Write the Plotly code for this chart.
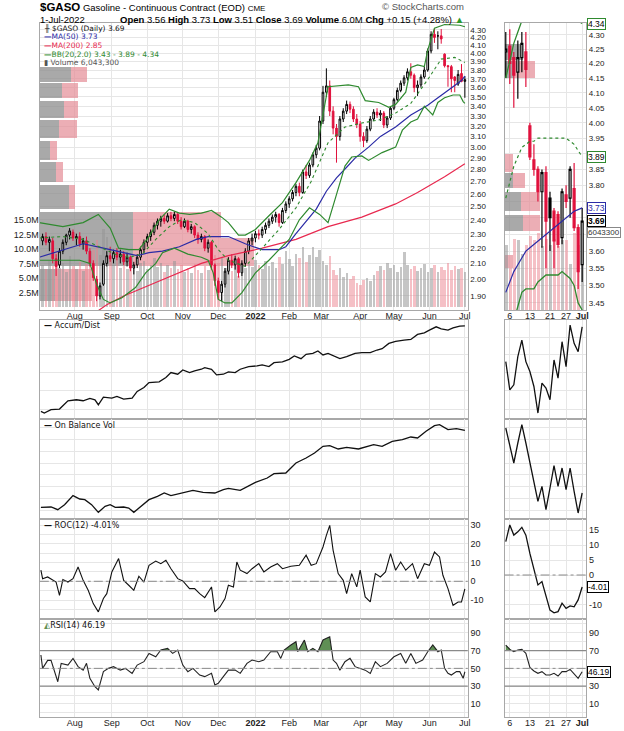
import numpy as np
import plotly.graph_objects as go

# ======================= DATA =======================
# x = trading-day index: 0 = 1-Jul-2021 ... 252 = 1-Jul-2022 ; main candles every 2 trading days
bar_idx = list(range(2, 253, 2))
opens = [2.25,2.28,2.24,2.25,2.13,2.09,2.18,2.24,2.29,2.31,
         2.27,2.28,2.23,2.25,2.18,2.10,2.00,1.90,1.97,2.10,
         2.15,2.13,2.17,2.14,2.16,2.11,2.14,2.07,2.09,2.14,
         2.19,2.24,2.28,2.31,2.36,2.39,2.41,2.39,2.43,2.41,
         2.44,2.39,2.35,2.39,2.33,2.35,2.29,2.26,2.28,2.20,
         2.24,2.09,1.99,1.92,1.97,2.05,2.12,2.09,2.13,2.04,
         2.10,2.18,2.25,2.27,2.30,2.29,2.33,2.36,2.39,2.42,
         2.44,2.38,2.47,2.52,2.56,2.61,2.66,2.61,2.78,2.75,
         2.84,2.93,2.99,3.25,3.55,3.62,3.35,3.18,3.10,3.27,
         3.35,3.42,3.37,3.27,3.22,3.10,3.06,3.17,3.27,3.34,
         3.31,3.33,3.21,3.28,3.38,3.47,3.57,3.65,3.71,3.78,
         3.74,3.60,3.63,3.72,3.80,4.03,4.24,4.22,4.22,3.99,
         3.85,3.84,3.72,3.64,3.76,3.67]
highs = [2.30,2.31,2.28,2.27,2.16,2.20,2.26,2.30,2.34,2.33,
         2.30,2.31,2.27,2.28,2.20,2.12,2.02,1.98,2.12,2.18,
         2.21,2.19,2.20,2.19,2.18,2.17,2.15,2.11,2.16,2.21,
         2.26,2.30,2.33,2.38,2.41,2.43,2.44,2.45,2.46,2.46,
         2.45,2.42,2.41,2.40,2.37,2.36,2.31,2.30,2.29,2.26,
         2.25,2.10,2.01,1.99,2.07,2.14,2.16,2.15,2.14,2.12,
         2.20,2.27,2.30,2.32,2.33,2.35,2.38,2.41,2.44,2.46,
         2.45,2.49,2.54,2.58,2.63,2.68,2.69,2.80,2.84,2.86,
         2.95,3.02,3.30,3.62,3.82,3.68,3.40,3.22,3.30,3.38,
         3.46,3.45,3.40,3.32,3.25,3.14,3.20,3.30,3.37,3.38,
         3.36,3.35,3.30,3.40,3.49,3.60,3.68,3.74,3.82,3.88,
         3.76,3.68,3.75,3.84,4.06,4.28,4.32,4.28,4.31,4.00,
         3.86,3.86,3.73,3.80,3.87,3.73]
lows = [2.22,2.22,2.18,2.10,2.02,2.07,2.16,2.22,2.26,2.25,
        2.22,2.21,2.19,2.16,2.08,1.99,1.87,1.88,1.96,2.08,
        2.11,2.10,2.12,2.10,2.09,2.08,2.05,2.03,2.07,2.12,
        2.17,2.21,2.25,2.29,2.33,2.35,2.37,2.38,2.39,2.39,
        2.37,2.33,2.34,2.31,2.30,2.27,2.23,2.24,2.18,2.17,
        2.06,1.96,1.88,1.87,1.95,2.03,2.07,2.06,2.01,2.02,
        2.08,2.16,2.22,2.24,2.26,2.27,2.30,2.34,2.37,2.38,
        2.35,2.37,2.45,2.49,2.54,2.58,2.58,2.60,2.72,2.73,
        2.82,2.90,2.97,3.22,3.50,3.30,3.12,2.86,3.06,3.24,
        3.32,3.33,3.24,3.18,3.05,3.00,3.04,3.15,3.25,3.28,
        3.25,3.18,3.18,3.26,3.36,3.45,3.55,3.62,3.68,3.70,
        3.55,3.51,3.60,3.70,3.78,4.00,4.13,4.05,4.12,3.83,
        3.61,3.55,3.55,3.62,3.66,3.49]
closes = [2.28,2.24,2.26,2.13,2.08,2.18,2.24,2.29,2.32,2.27,
          2.28,2.23,2.25,2.18,2.10,2.01,1.90,1.96,2.10,2.15,
          2.13,2.17,2.14,2.16,2.11,2.14,2.07,2.09,2.14,2.19,
          2.24,2.28,2.31,2.36,2.39,2.41,2.39,2.43,2.41,2.44,
          2.39,2.35,2.39,2.33,2.35,2.29,2.26,2.28,2.20,2.24,
          2.09,1.99,1.92,1.97,2.05,2.12,2.09,2.13,2.04,2.10,
          2.18,2.25,2.27,2.30,2.29,2.33,2.36,2.39,2.42,2.44,
          2.38,2.47,2.52,2.56,2.61,2.66,2.61,2.78,2.75,2.84,
          2.93,2.99,3.25,3.55,3.62,3.35,3.18,3.10,3.27,3.35,
          3.42,3.37,3.27,3.22,3.10,3.06,3.17,3.27,3.34,3.31,
          3.33,3.21,3.28,3.38,3.47,3.57,3.65,3.71,3.78,3.74,
          3.60,3.63,3.72,3.80,4.03,4.24,4.20,4.22,4.18,3.85,
          3.84,3.70,3.68,3.75,3.67,3.69]
volumes = [7.2,6.5,8.0,7.0,9.5,6.8,7.5,6.0,8.8,7.0,
           6.5,7.8,6.2,7.4,8.5,9.8,11.5,9.0,13.5,12.0,
           8.5,7.2,9.0,6.8,7.5,6.5,8.0,7.0,6.2,7.6,
           8.0,6.6,7.2,8.4,6.9,7.6,6.0,7.3,6.8,7.9,
           6.5,7.2,6.0,6.8,5.9,7.4,6.3,5.8,7.0,6.4,
           8.2,9.0,7.5,8.6,6.8,7.8,6.2,7.0,5.4,6.0,
           6.8,7.6,6.9,8.1,7.3,6.6,8.0,7.1,7.7,6.8,
           8.6,7.4,9.6,8.2,7.0,9.2,8.4,10.3,7.8,9.0,
           10.4,8.6,9.8,8.0,7.2,8.8,6.4,5.6,6.8,5.2,
           5.8,4.8,5.4,4.2,3.8,4.6,5.0,4.4,5.6,6.2,
           7.0,6.4,7.6,6.8,7.3,6.0,6.9,9.4,7.2,6.5,
           7.0,6.2,6.8,7.4,6.1,6.7,7.2,6.0,6.9,6.3,
           7.5,6.4,7.0,6.6,6.8,6.04]

# last quote (header)
quote_open, quote_high, quote_low, quote_close = 3.56, 3.73, 3.51, 3.69
quote_chg, quote_pct = 0.15, 4.28
last_volume = 6043300

ma50_idx = [0,14,26,34,46,58,65,73,83,93,100,112,122,132,142,146,152,158,164,170,176,182,187,195,202,211,220,230,240,250,252]
ma50_val = [2.14,2.19,2.23,2.21,2.18,2.15,2.17,2.18,2.21,2.26,2.28,2.28,2.23,2.19,2.19,2.21,2.30,2.39,2.48,2.62,2.73,2.82,2.90,3.00,3.10,3.19,3.31,3.41,3.54,3.68,3.73]
ma200_idx = [30,34,40,50,69,83,96,112,132,152,171,191,211,224,240,252]
ma200_val = [1.78,1.81,1.85,1.90,1.98,2.04,2.10,2.15,2.20,2.26,2.35,2.42,2.52,2.61,2.74,2.85]
bb_up_idx = [0,14,26,35,42,47,53,59,65,71,77,83,89,96,102,108,112,118,122,128,136,144,152,160,165,169,171,183,189,193,201,207,211,217,220,224,228,230,234,240,249,252]
bb_up_val = [2.38,2.35,2.38,2.44,2.34,2.20,2.19,2.19,2.28,2.40,2.48,2.45,2.44,2.45,2.47,2.42,2.38,2.29,2.29,2.33,2.43,2.53,2.69,2.88,3.04,3.43,3.61,3.63,3.61,3.46,3.44,3.39,3.42,3.55,3.83,3.86,3.84,4.04,4.32,4.37,4.36,4.34]
bb_mid_idx = [0,14,26,35,45,53,61,69,77,84,92,100,106,112,122,132,142,152,161,171,181,191,201,211,220,230,238,246,252]
bb_mid_val = [2.27,2.28,2.26,2.21,2.16,2.14,2.16,2.26,2.35,2.40,2.38,2.30,2.19,2.12,2.08,2.20,2.33,2.49,2.70,3.04,3.19,3.23,3.26,3.33,3.43,3.69,3.93,3.95,3.89]
bb_lo_idx = [0,14,24,30,34,38,42,49,57,63,69,73,80,88,96,100,103,106,110,114,120,128,136,142,148,154,160,166,171,175,181,185,191,195,203,211,215,220,224,228,233,236,240,245,249,251,252]
bb_lo_val = [2.12,2.12,2.12,2.10,1.97,1.88,1.86,1.89,1.95,2.04,2.10,2.17,2.20,2.16,2.14,2.12,2.04,1.88,1.86,1.86,1.92,2.04,2.12,2.19,2.26,2.40,2.49,2.44,2.38,2.55,2.83,2.91,2.92,2.88,2.95,3.00,3.16,3.24,3.27,3.40,3.31,3.44,3.49,3.52,3.52,3.45,3.43]

# volume-by-price zones (price low/high, up-volume, down-volume)
vbp_lo = [1.87, 2.08, 2.27, 2.48, 2.69, 2.88, 3.08, 3.28, 3.49, 3.66]
vbp_hi = [2.07, 2.27, 2.46, 2.67, 2.87, 3.06, 3.26, 3.46, 3.65, 3.84]
vbp_up = [15, 93, 93, 29, 16, 10, 19, 24, 22, 31]
vbp_down = [37, 122, 89, 6, 7, 7, 18, 14, 16, 16]

month_idx = [21, 43, 64, 85, 106, 128, 148, 167, 190, 210, 231, 252]
month_txt = ['Aug', 'Sep', 'Oct', 'Nov', 'Dec', '<b>2022</b>', 'Feb', 'Mar', 'Apr', 'May', 'Jun', 'Jul']

ad_idx = [1,3,7,12,17,22,26,30,33,35,38,43,46,50,55,58,62,65,71,75,78,82,85,89,92,96,98,102,105,109,112,116,119,124,129,132,136,139,144,148,151,155,158,162,165,168,171,175,178,182,187,191,196,200,203,207,211,216,220,224,228,231,235,238,242,245,249,252]
ad_val = [23,18,28,30,55,58,55,62,58,43,66,63,68,60,63,83,95,110,112,125,140,135,148,140,145,150,155,150,133,135,142,140,150,158,160,163,158,170,172,180,190,182,195,198,205,193,198,188,182,188,198,200,200,208,212,228,234,238,240,255,260,268,278,272,268,275,280,281]
obv_idx = [1,7,11,15,20,24,27,31,35,39,42,45,50,53,56,60,65,70,74,78,82,85,91,97,104,109,112,119,128,135,139,146,152,158,163,168,172,177,182,189,198,203,209,215,220,224,229,234,237,242,247,252]
obv_val = [35,36,28,43,70,60,58,43,20,38,43,35,36,33,20,38,58,68,78,70,75,80,86,80,78,88,92,86,110,123,136,138,168,183,198,218,220,210,215,210,223,218,233,238,246,243,263,280,283,268,271,266]
roc_idx = [1,2,5,10,12,14,17,20,23,26,29,32,35,38,40,43,47,50,53,56,59,62,65,69,72,75,78,82,85,89,92,95,98,102,104,107,110,112,115,117,119,123,126,130,133,137,141,144,149,154,158,161,164,168,170,172,174,177,180,182,185,188,190,193,196,199,202,205,208,211,214,217,221,224,228,231,234,237,239,242,245,248,250,252]
roc_val = [5.9,1.4,2.3,-0.4,-7.5,0.9,-0.4,1.4,7.6,0.5,-4.8,-11.9,-16.3,-9.2,-6.6,5.0,12.1,0.5,-2.1,-4.8,2.7,-0.4,8.5,10.8,9.4,11.2,6.7,1.4,0.2,-3.9,-3.9,-6.6,-8.7,-3.0,-16.3,-13.7,-9.2,-2.1,-3.0,10.3,5.9,4.1,6.7,9.4,5.0,7.6,9.4,6.7,8.0,8.5,13.9,8.5,9.4,18.3,24.5,29.8,16.5,4.1,0.5,-6.6,4.1,-3.0,5.9,-8.3,-11.0,4.1,2.3,5.0,14.7,5.9,10.3,5.9,9.4,1.4,9.4,8.5,15.6,13.0,3.2,-3.9,-12.8,-11.0,-11.0,-4.01]
rsi_idx = [1,2,5,7,11,13,17,20,23,26,28,30,33,35,38,41,44,48,51,55,58,62,65,69,72,76,79,82,85,88,91,95,98,102,104,106,109,112,116,119,123,126,130,133,137,141,143,145,149,152,153,157,159,162,165,168,172,174,176,178,181,184,187,190,193,196,199,202,206,210,214,217,220,223,227,230,233,236,238,240,242,244,247,249,251,252]
rsi_val = [65,50,59,59,35,55.6,53.7,61.2,51.9,48,55.6,38.8,29.4,25.7,46.3,50,51.9,48,50,44.4,53.7,57.5,66.8,63,70.6,72.4,66.8,70.6,53.7,46.3,50,42.5,40.7,44.4,31.3,33.2,40.7,48,48,44.4,55.6,59.3,57.5,59.3,68.7,68.7,61.2,70.6,76.2,79.9,68.7,81.8,68.7,72.4,68.7,81.8,85.5,59.3,55.6,48,57.5,61.2,51.9,50,48,44.4,57.5,51.9,55.6,63,66.8,55.6,66.8,55.6,59.3,68.7,76.2,68.7,70.6,50,44.4,42.5,46.3,46.3,38.8,46.19]

# mini (zoomed) panel: daily, 3-Jun-2022 .. 1-Jul-2022
mini_idx = list(range(20))
mini_tick_idx = [1, 6, 11, 15, 19]
mini_tick_txt = ['6', '13', '21', '27', '<b>Jul</b>']
mini_open = [4.24,4.26,4.22,4.17,4.22,4.24,3.99,3.88,3.85,3.78,3.84,3.76,3.72,3.71,3.64,3.77,3.76,3.79,3.67,3.56]
mini_high = [4.31,4.32,4.24,4.28,4.31,4.31,4.00,3.93,3.86,3.85,3.86,3.78,3.73,3.72,3.79,3.80,3.86,3.87,3.68,3.73]
mini_low = [4.15,4.13,4.05,4.08,4.17,4.12,3.88,3.83,3.75,3.61,3.55,3.60,3.55,3.61,3.62,3.73,3.70,3.66,3.49,3.51]
mini_close = [4.25,4.20,4.16,4.22,4.27,4.18,3.89,3.85,3.78,3.84,3.69,3.70,3.63,3.62,3.78,3.75,3.85,3.67,3.54,3.69]
mini_volume = [5.1,3.3,5.6,5.5,4.4,5.1,5.8,5.5,6.0,5.0,5.6,5.1,5.6,5.0,5.5,5.5,3.6,6.0,5.1,6.0433]
mini_ma50 = [3.48,3.51,3.54,3.56,3.58,3.60,3.61,3.62,3.63,3.64,3.65,3.66,3.67,3.68,3.69,3.70,3.71,3.72,3.725,3.73]
mini_bb_up = [4.15,4.21,4.27,4.31,4.35,4.37,4.38,4.39,4.39,4.39,4.39,4.38,4.38,4.37,4.37,4.36,4.36,4.35,4.35,4.34]
mini_bb_mid = [3.76,3.81,3.86,3.89,3.92,3.93,3.94,3.94,3.95,3.95,3.95,3.95,3.95,3.95,3.95,3.95,3.94,3.93,3.91,3.89]
mini_bb_lo = [3.30,3.35,3.40,3.44,3.48,3.49,3.49,3.49,3.51,3.52,3.53,3.53,3.53,3.53,3.54,3.53,3.52,3.50,3.45,3.43]
mvbp_lo = [3.55, 3.66, 3.72, 3.79, 3.84, 4.15, 4.21]
mvbp_hi = [3.59, 3.71, 3.78, 3.84, 3.90, 4.21, 4.27]
mvbp_up = [0, 18, 16, 8, 0, 8, 18]
mvbp_down = [8, 17, 19, 12, 8, 22, 0]
mini_ad = [173,88,103,188,238,173,143,98,18,108,93,58,178,123,233,158,283,228,203,278]
mini_obv = [273,218,168,228,283,228,168,108,53,98,28,93,160,98,153,88,153,83,18,78]
mini_roc = [11.1,16.7,13.3,14.4,15.9,13.3,7.2,1.7,-3.3,-2.2,-7.2,-11.7,-12.6,-12.2,-9.4,-11.1,-10.3,-10.6,-8.3,-4.01]
mini_rsi = [76.2,71.3,68.7,70.6,71.3,66.8,51.1,47.0,44.4,46.3,42.5,42.5,44.4,41.4,46.3,46.3,48.9,44.4,38.8,46.19]

# ======================= STYLE / LAYOUT =======================
W, H = 624, 731
FONT = "Liberation Sans, Arial, sans-serif"
LFONT = "DejaVu Sans, Verdana, sans-serif"
GRID = "#e6e6e6"
BORDER = "#a8a8a8"
RED = "#e0103c"
BLUE = "#2b2ba6"
MA200C = "#e8294f"
GREEN = "#2f8a2f"
RSIFILL = "#5f8f55"
tf = dict(family=FONT, size=9, color="#222")
tf_price = dict(family=FONT, size=8, color="#222")


def ydom(top, bot):
    return [1 - bot / H, 1 - top / H]


def xdom(l, r):
    return [l / W, r / W]


MAIN_XD = xdom(40, 470)
MINI_XD = xdom(507, 589)
PRICE_YD = ydom(23, 310)
AD_YD = ydom(319.5, 419)
OBV_YD = ydom(419, 519)
ROC_YD = ydom(519, 619)
RSI_YD = ydom(619, 717)
MAIN_XR = [0.35, 253.7]
MINI_XR = [-0.3, 20.0]
PRICE_LO, PRICE_HI = 1.82, 4.39
MPRICE_LO, MPRICE_HI = 3.43, 4.342
VOL_RANGE = [-0.52, 48.97]
MVOL_RANGE = [0, 22.5]

fig = go.Figure()


def vbp(lo, hi, up, down, xa, ya):
    lo_l, hi_l = np.log(lo), np.log(hi)
    mid = (lo_l + hi_l) / 2
    wid = (hi_l - lo_l) * 0.97
    fig.add_trace(go.Bar(x=up, y=mid, width=wid, orientation='h',
                         marker=dict(color='rgba(140,140,140,0.75)', line_width=0),
                         xaxis=xa, yaxis=ya, hoverinfo='skip'))
    fig.add_trace(go.Bar(x=down, y=mid, base=up, width=wid, orientation='h',
                         marker=dict(color='rgba(228,140,150,0.7)', line_width=0),
                         xaxis=xa, yaxis=ya, hoverinfo='skip'))


def volume_bars(xs, v, c, width, xa, ya):
    c = np.asarray(c, float)
    prev = np.r_[c[0], c[:-1]]
    cols = np.where(c >= prev, 'rgba(150,150,150,0.55)', 'rgba(236,130,142,0.5)')
    fig.add_trace(go.Bar(x=xs, y=v, width=width, marker=dict(color=list(cols), line_width=0),
                         xaxis=xa, yaxis=ya, hoverinfo='skip'))


def candles(xs, o, h, l, c, xa, ya, lw):
    xs = np.asarray(xs); o = np.asarray(o, float); h = np.asarray(h, float)
    l = np.asarray(l, float); c = np.asarray(c, float)
    prev = np.r_[o[0], c[:-1]]
    blk = c >= prev
    for mask, col in ((blk, 'black'), (~blk, RED)):
        fig.add_trace(go.Candlestick(
            x=xs[mask], open=o[mask], high=h[mask], low=l[mask], close=c[mask],
            increasing=dict(line=dict(color=col, width=lw), fillcolor='white'),
            decreasing=dict(line=dict(color=col, width=lw), fillcolor=col),
            whiskerwidth=0, xaxis=xa, yaxis=ya, hoverinfo='skip'))


def line(xs, ys, color, xa, ya, width=1.2, dash=None):
    fig.add_trace(go.Scatter(x=xs, y=ys, mode='lines', line=dict(color=color, width=width, dash=dash),
                             xaxis=xa, yaxis=ya, hoverinfo='skip'))


def above(xs, vs, level):
    X, Y = [], []
    for i in range(len(xs)):
        if i > 0 and (vs[i - 1] - level) * (vs[i] - level) < 0:
            t = (level - vs[i - 1]) / (vs[i] - vs[i - 1])
            X.append(xs[i - 1] + t * (xs[i] - xs[i - 1])); Y.append(level)
        X.append(xs[i]); Y.append(max(vs[i], level))
    return X, Y


def rsi_block(xs, vs, xa, ya):
    X, Y = above(xs, vs, 70)
    fig.add_trace(go.Scatter(x=X, y=[70] * len(X), mode='lines', line=dict(width=0),
                             xaxis=xa, yaxis=ya, hoverinfo='skip'))
    fig.add_trace(go.Scatter(x=X, y=Y, mode='lines', line=dict(width=0), fill='tonexty',
                             fillcolor=RSIFILL, xaxis=xa, yaxis=ya, hoverinfo='skip'))
    line(xs, vs, '#222', xa, ya, 1.1)


# ---- main price panel ----
vbp(vbp_lo, vbp_hi, vbp_up, vbp_down, 'x', 'y')
volume_bars(bar_idx, volumes, closes, 1.55, 'x2', 'y2')
candles(bar_idx, opens, highs, lows, closes, 'x2', 'y3', 1)
line(ma200_idx, ma200_val, MA200C, 'x2', 'y3')
line(ma50_idx, ma50_val, BLUE, 'x2', 'y3')
line(bb_mid_idx, bb_mid_val, GREEN, 'x2', 'y3', 1.1, 'dot')
line(bb_up_idx, bb_up_val, GREEN, 'x2', 'y3', 1.2)
line(bb_lo_idx, bb_lo_val, GREEN, 'x2', 'y3', 1.2)

# ---- mini price panel ----
vbp(mvbp_lo, mvbp_hi, mvbp_up, mvbp_down, 'x3', 'y4')
volume_bars(mini_idx, mini_volume, mini_close, 0.8, 'x4', 'y5')
candles(mini_idx, mini_open, mini_high, mini_low, mini_close, 'x4', 'y6', 1.2)
line(mini_idx, mini_ma50, BLUE, 'x4', 'y6')
line(mini_idx, mini_bb_mid, GREEN, 'x4', 'y6', 1.2, 'dot')
line(mini_idx, mini_bb_up, GREEN, 'x4', 'y6', 1.3)
line(mini_idx, mini_bb_lo, GREEN, 'x4', 'y6', 1.3)

# ---- indicator panels ----
line(ad_idx, ad_val, '#111', 'x5', 'y7', 1.3)
line(mini_idx, mini_ad, '#111', 'x6', 'y8', 1.3)
line(obv_idx, obv_val, '#111', 'x7', 'y9', 1.3)
line(mini_idx, mini_obv, '#111', 'x8', 'y10', 1.3)
line(roc_idx, roc_val, '#111', 'x9', 'y11', 1.1)
line(mini_idx, mini_roc, '#111', 'x10', 'y12', 1.3)
rsi_block(rsi_idx, rsi_val, 'x11', 'y13')
rsi_block(mini_idx, mini_rsi, 'x12', 'y14')


def time_axis(rng, tv, tt, labels, **kw):
    d = dict(range=rng, tickmode='array', tickvals=tv, ticktext=tt, showticklabels=labels,
             showgrid=True, gridcolor=GRID, gridwidth=1, zeroline=False, showline=True,
             mirror=True, linecolor=BORDER, linewidth=1, ticks='', ticklen=0, tickfont=tf,
             ticklabelstandoff=-3, fixedrange=True, rangeslider=dict(visible=False))
    d.update(kw)
    return d


def val_axis(rng, tv, tt, **kw):
    d = dict(range=rng, tickmode='array', tickvals=tv, ticktext=tt, showgrid=True,
             gridcolor=GRID, zeroline=False, showline=True, mirror=True, linecolor=BORDER,
             linewidth=1, ticks='', ticklen=0, tickfont=tf, side='right', fixedrange=True)
    d.update(kw)
    return d


price_ticks = [round(1.9 + 0.1 * k, 2) for k in range(25)]
mprice_ticks = [round(3.45 + 0.05 * k, 2) for k in range(18)]
mprice_hidden = (3.65, 3.70, 3.75, 3.90)
mprice_txt = ['' if v in mprice_hidden else f'{v:.2f}' for v in mprice_ticks]
vol_ticks = [2.5, 5, 7.5, 10, 12.5, 15]
ad_grid = [30, 87, 140, 193, 246]
obv_grid = [27, 62, 98, 133, 168, 204, 240, 275]
roc_ticks = [-15, -10, -5, 0, 5, 10, 15, 20, 25, 30]
roc_txt = ['', '-10', '', '0', '', '10', '', '20', '', '30']
mroc_ticks = [-10, -5, 0, 5, 10, 15]
mroc_txt = ['-10', '', '0', '5', '10', '15']
rsi_ticks = list(range(0, 101, 10))
rsi_txt = [str(v) if v in (10, 30, 50, 70, 90) else '' for v in rsi_ticks]
mrsi_txt = [str(v) if v in (10, 30, 70, 90) else '' for v in rsi_ticks]
hidden = dict(visible=False, fixedrange=True)

layout = dict(
    width=W, height=H, margin=dict(l=0, r=0, t=0, b=0),
    paper_bgcolor='white', plot_bgcolor='white', showlegend=False,
    barmode='overlay', bargap=0, hovermode=False,
    xaxis=dict(domain=MAIN_XD, range=[0, 430], anchor='y', **hidden),
    yaxis=dict(domain=PRICE_YD, range=[np.log(PRICE_LO), np.log(PRICE_HI)], anchor='x', **hidden),
    xaxis2=time_axis(MAIN_XR, month_idx, month_txt, True, overlaying='x', anchor='y', side='bottom'),
    yaxis2=dict(overlaying='y', anchor='x', side='left', range=VOL_RANGE, tickmode='array',
                tickvals=vol_ticks, ticktext=[f'{v:.1f}M' for v in vol_ticks], showgrid=False,
                zeroline=False, ticks='', ticklen=0, tickfont=tf, showline=False, fixedrange=True),
    yaxis3=val_axis([np.log10(PRICE_LO), np.log10(PRICE_HI)], price_ticks,
                    [f'{v:.2f}' for v in price_ticks], overlaying='y', anchor='x', type='log',
                    tickfont=tf_price),
    xaxis3=dict(domain=MINI_XD, range=[0, 82], anchor='y4', **hidden),
    yaxis4=dict(domain=PRICE_YD, range=[np.log(MPRICE_LO), np.log(MPRICE_HI)], anchor='x3', **hidden),
    xaxis4=time_axis(MINI_XR, mini_tick_idx, mini_tick_txt, True, overlaying='x3', anchor='y4', side='bottom'),
    yaxis5=dict(overlaying='y4', anchor='x3', range=MVOL_RANGE, **hidden),
    yaxis6=val_axis([np.log10(MPRICE_LO), np.log10(MPRICE_HI)], mprice_ticks, mprice_txt,
                    overlaying='y4', anchor='x3', type='log', tickfont=tf_price),
    xaxis5=time_axis(MAIN_XR, month_idx, month_txt, False, domain=MAIN_XD, anchor='y7'),
    yaxis7=val_axis([0, 300], ad_grid, [''] * len(ad_grid), domain=AD_YD, anchor='x5'),
    xaxis6=time_axis(MINI_XR, mini_tick_idx, mini_tick_txt, False, domain=MINI_XD, anchor='y8'),
    yaxis8=val_axis([0, 300], ad_grid, [''] * len(ad_grid), domain=AD_YD, anchor='x6'),
    xaxis7=time_axis(MAIN_XR, month_idx, month_txt, False, domain=MAIN_XD, anchor='y9'),
    yaxis9=val_axis([0, 300], obv_grid, [''] * len(obv_grid), domain=OBV_YD, anchor='x7'),
    xaxis8=time_axis(MINI_XR, mini_tick_idx, mini_tick_txt, False, domain=MINI_XD, anchor='y10'),
    yaxis10=val_axis([0, 300], obv_grid, [''] * len(obv_grid), domain=OBV_YD, anchor='x8'),
    xaxis9=time_axis(MAIN_XR, month_idx, month_txt, False, domain=MAIN_XD, anchor='y11'),
    yaxis11=val_axis([-20.1, 33.2], roc_ticks, roc_txt, domain=ROC_YD, anchor='x9'),
    xaxis10=time_axis(MINI_XR, mini_tick_idx, mini_tick_txt, False, domain=MINI_XD, anchor='y12'),
    yaxis12=val_axis([-14.67, 18.67], mroc_ticks, mroc_txt, domain=ROC_YD, anchor='x10'),
    xaxis11=time_axis(MAIN_XR, month_idx, month_txt, True, domain=MAIN_XD, anchor='y13'),
    yaxis13=val_axis([-4.6, 105.4], rsi_ticks, rsi_txt, domain=RSI_YD, anchor='x11'),
    xaxis12=time_axis(MINI_XR, mini_tick_idx, mini_tick_txt, True, domain=MINI_XD, anchor='y14'),
    yaxis14=val_axis([-4.6, 105.4], rsi_ticks, mrsi_txt, domain=RSI_YD, anchor='x12'),
)

# reference levels
shapes = []
for xa, ya in (('x9', 'y11'), ('x10', 'y12')):
    shapes.append(dict(type='line', xref=f'{xa} domain', yref=ya, x0=0, x1=1, y0=0, y1=0,
                       line=dict(color='#8a8a8a', width=1, dash='dashdot')))
for xa, ya in (('x11', 'y13'), ('x12', 'y14')):
    for lv in (70, 30):
        shapes.append(dict(type='line', xref=f'{xa} domain', yref=ya, x0=0, x1=1, y0=lv, y1=lv,
                           line=dict(color='#8a8a8a', width=1.3)))
    shapes.append(dict(type='line', xref=f'{xa} domain', yref=ya, x0=0, x1=1, y0=50, y1=50,
                       line=dict(color='#8a8a8a', width=1, dash='dashdot')))
layout['shapes'] = shapes

ann = []


def text(x, y, s, size=9, color='#000', anchor='left', family=FONT):
    ann.append(dict(x=x / W, y=1 - y / H, xref='paper', yref='paper', text=s, showarrow=False,
                    xanchor=anchor, yanchor='middle', font=dict(size=size, color=color, family=family)))


def tag(yref, yval, s, border, color='#000', size=8.5):
    ann.append(dict(x=(589 + 1) / W, y=yval, xref='paper', yref=yref, text=s, showarrow=False,
                    xanchor='left', yanchor='middle', font=dict(size=size, color=color, family=FONT),
                    bgcolor='white', bordercolor=border, borderwidth=1, borderpad=0))


text(38, 6.5, "<b><span style='font-size:11.5px'>$GASO</span></b> Gasoline - Continuous Contract (EOD) "
              "<span style='font-size:8px'>CME</span>", 9.5)
text(38, 19, "1-Jul-2022", 9.5)
text(468, 19, f"<b>Open</b> {quote_open:.2f} <b>High</b> {quote_high:.2f} <b>Low</b> {quote_low:.2f} "
              f"<b>Close</b> {quote_close:.2f} <b>Volume</b> {last_volume / 1e6:.1f}M "
              f"<b>Chg</b> {quote_chg:+.2f} ({quote_pct:+.2f}%) "
              f"<span style='color:#2a9a2a'>▲</span>", 9.5, anchor='right')
text(468, 6.5, "© StockCharts.com", 9.5, '#555', anchor='right')

LEG_Y = [28.5, 37, 45.5, 54, 62.5]
text(42, LEG_Y[0], f"<span style='color:#444'>╫</span> $GASO (Daily) {quote_close:.2f}", 7.5, '#111', family=LFONT)
text(42, LEG_Y[1], f"<b>—</b>MA(50) {ma50_val[-1]:.2f}", 7.5, BLUE, family=LFONT)
text(42, LEG_Y[2], f"<b>—</b>MA(200) {ma200_val[-1]:.2f}", 7.5, MA200C, family=LFONT)
text(42, LEG_Y[3], f"<b>—</b>BB(20,2.0) {bb_lo_val[-1]:.2f} - {bb_mid_val[-1]:.2f} - {bb_up_val[-1]:.2f}",
     7.5, GREEN, family=LFONT)
text(42, LEG_Y[4], f"▮ Volume {last_volume:,}", 7.5, '#555', family=LFONT)
text(42, 325.5, "<b>—</b> Accum/Dist", 8, '#111', family=LFONT)
text(42, 425.5, "<b>—</b> On Balance Vol", 8, '#111', family=LFONT)
text(42, 525.5, f"<b>—</b> ROC(12) {mini_roc[-1]:.2f}%", 8, '#111', family=LFONT)
text(42, 625.5, f"<span style='color:{RSIFILL}'>◭</span>RSI(14) {mini_rsi[-1]:.2f}", 8, '#111', family=LFONT)

tag('y6', np.log10(mini_bb_up[-1]), f"{mini_bb_up[-1]:.2f}", GREEN)
tag('y6', np.log10(mini_bb_mid[-1]), f"{mini_bb_mid[-1]:.2f}", GREEN)
tag('y6', np.log10(mini_ma50[-1]), f"{mini_ma50[-1]:.2f}", BLUE, BLUE)
tag('y6', np.log10(quote_close), f"<b>{quote_close:.2f}</b>", '#000')
tag('y5', mini_volume[-1], f"{last_volume}", '#888', '#333', 8)
tag('y12', mini_roc[-1], f"{mini_roc[-1]:.2f}", '#000')
tag('y14', mini_rsi[-1], f"{mini_rsi[-1]:.2f}", '#000')
layout['annotations'] = ann

fig.update_layout(**layout)
fig.write_html("out.html", config={'displayModeBar': False},
               post_script="document.body.style.margin='0';document.body.style.overflow='hidden';")
